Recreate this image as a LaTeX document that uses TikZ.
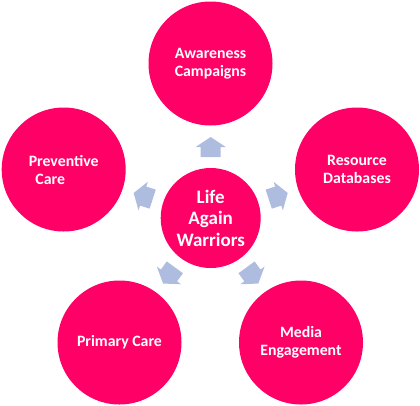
\documentclass[tikz,border=0pt]{standalone}
\usepackage{fontspec}
\setmainfont{Carlito}
\definecolor{lifepink}{RGB}{255,0,102}
\definecolor{arrowblue}{RGB}{174,188,224}
\begin{document}
\begin{tikzpicture}[x=1pt,y=-1pt,
  bubble/.style={circle, fill=lifepink, text=white, font=\bfseries\fontsize{15.8}{18}\selectfont, align=center, minimum size=124pt, inner sep=0pt},
  hub/.style={bubble, minimum size=100pt, font=\bfseries\fontsize{19}{21.5}\selectfont},
  blockarrow/.style={fill=arrowblue}]
\useasboundingbox (0,0) rectangle (420,405);
\node[hub] (c) at (210.7,218) {Life\\Again\\Warriors};
\node[bubble] (t) at (210.5,63.5) {Awareness\\Campaigns};
\node[bubble] (r) at (357,169.5) {Resource\\Databases};
\node[bubble] (l) at (63.7,169.5) {Preventive\\Care\hspace*{27pt}};
\node[bubble] (bl) at (119.5,342.5) {Primary Care};
\node[bubble] (br) at (301,342.5) {Media\\Engagement};
\foreach \a in {90,18,-54,-126,162} {
  \fill[blockarrow, shift={(c.center)}, rotate=\a]
    (61,-10) -- (71,-10) -- (71,-15) -- (81,0) -- (71,15) -- (71,10) -- (61,10) -- cycle;
}
\end{tikzpicture}
\end{document}
